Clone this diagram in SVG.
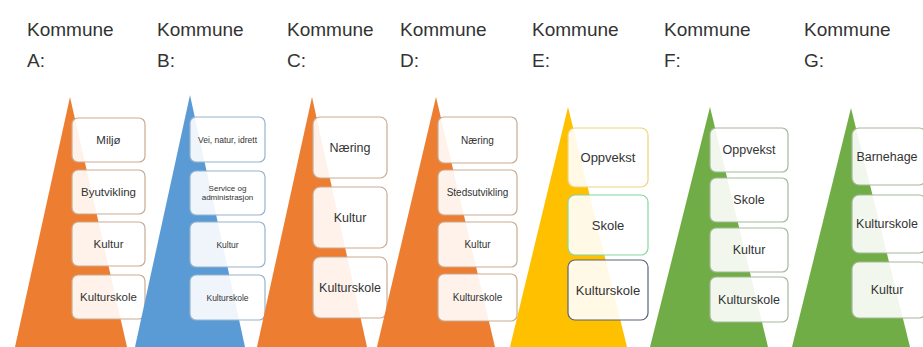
<svg xmlns="http://www.w3.org/2000/svg" width="923" height="347" viewBox="0 0 923 347">
<style>
.hd{font-family:"Liberation Sans",Arial,sans-serif;font-size:19px;fill:#333}
.bx{fill:#fff;fill-opacity:0.9;stroke-width:1.2}
.t{font-family:"Liberation Sans",Arial,sans-serif;fill:#333;text-anchor:middle;dominant-baseline:central}
.or{fill:#ED7D31}.bl{fill:#5B9BD5}.ye{fill:#FFC000}.gr{fill:#70AD47}
.so{stroke:#c9ab92}.sb{stroke:#97b3cc}.sg{stroke:#a6b79c}
</style>
<rect width="923" height="347" fill="#fff"/>
<g id="headers">
<text class="hd" x="27" y="36">Kommune</text><text class="hd" x="27" y="67">A:</text>
<text class="hd" x="157" y="36">Kommune</text><text class="hd" x="157" y="67">B:</text>
<text class="hd" x="287" y="36">Kommune</text><text class="hd" x="287" y="67">C:</text>
<text class="hd" x="400" y="36">Kommune</text><text class="hd" x="400" y="67">D:</text>
<text class="hd" x="532" y="36">Kommune</text><text class="hd" x="532" y="67">E:</text>
<text class="hd" x="664" y="36">Kommune</text><text class="hd" x="664" y="67">F:</text>
<text class="hd" x="804" y="36">Kommune</text><text class="hd" x="804" y="67">G:</text>
</g>
<g id="kommuneA">
<polygon class="or" points="70,97 15,347 127,347"/>
<g font-size="11.5">
<rect class="bx so" x="72" y="118" width="73" height="44" rx="6"/><text class="t" x="108.5" y="140">Miljø</text>
<rect class="bx so" x="72" y="170" width="73" height="44" rx="6"/><text class="t" x="108.5" y="192">Byutvikling</text>
<rect class="bx so" x="72" y="222" width="73" height="44" rx="6"/><text class="t" x="108.5" y="244">Kultur</text>
<rect class="bx so" x="72" y="275" width="73" height="44" rx="6"/><text class="t" x="108.5" y="297">Kulturskole</text>
</g>
</g>
<g id="kommuneB">
<polygon class="bl" points="190,95 135,347 245,347"/>
<g font-size="8.5">
<rect class="bx sb" x="190" y="117" width="75" height="45" rx="6"/><text class="t" x="227.5" y="139.5">Vei, natur, idrett</text>
<rect class="bx sb" x="190" y="171" width="75" height="44" rx="6"/><text class="t" x="227.5" y="188" font-size="8">Service og</text><text class="t" x="227.5" y="197" font-size="8">administrasjon</text>
<rect class="bx sb" x="190" y="222" width="75" height="45" rx="6"/><text class="t" x="227.5" y="244.5">Kultur</text>
<rect class="bx sb" x="190" y="275" width="75" height="45" rx="6"/><text class="t" x="227.5" y="297.5">Kulturskole</text>
</g>
</g>
<g id="kommuneC">
<polygon class="or" points="312,97 257,347 367,347"/>
<g font-size="12.5">
<rect class="bx so" x="313" y="117" width="74" height="61" rx="7"/><text class="t" x="350" y="147.5">Næring</text>
<rect class="bx so" x="313" y="187" width="74" height="61" rx="7"/><text class="t" x="350" y="217.5">Kultur</text>
<rect class="bx so" x="313" y="257" width="74" height="61" rx="7"/><text class="t" x="350" y="287.5">Kulturskole</text>
</g>
</g>
<g id="kommuneD">
<polygon class="or" points="436,97 377,347 495,347"/>
<g font-size="10">
<rect class="bx so" x="438" y="117" width="79" height="46" rx="6"/><text class="t" x="477.5" y="140">Næring</text>
<rect class="bx so" x="438" y="170" width="79" height="45" rx="6"/><text class="t" x="477.5" y="192.5">Stedsutvikling</text>
<rect class="bx so" x="438" y="222" width="79" height="45" rx="6"/><text class="t" x="477.5" y="244.5">Kultur</text>
<rect class="bx so" x="438" y="274" width="79" height="47" rx="6"/><text class="t" x="477.5" y="297.5">Kulturskole</text>
</g>
</g>
<g id="kommuneE">
<polygon class="ye" points="568,107 510,347 627,347"/>
<g font-size="13">
<rect class="bx" stroke="#efd37c" x="568" y="128" width="80" height="59" rx="7"/><text class="t" x="608" y="157.5">Oppvekst</text>
<rect class="bx" stroke="#86d6a0" x="568" y="195" width="80" height="60" rx="7"/><text class="t" x="608" y="225">Skole</text>
<rect class="bx" stroke="#56657a" x="568" y="260" width="80" height="60" rx="7"/><text class="t" x="608" y="290">Kulturskole</text>
</g>
</g>
<g id="kommuneF">
<polygon class="gr" points="710,107 650,347 768,347"/>
<g font-size="12.5">
<rect class="bx sg" x="710" y="128" width="78" height="44" rx="6"/><text class="t" x="749" y="150">Oppvekst</text>
<rect class="bx sg" x="710" y="178" width="78" height="44" rx="6"/><text class="t" x="749" y="200">Skole</text>
<rect class="bx sg" x="710" y="228" width="78" height="44" rx="6"/><text class="t" x="749" y="250">Kultur</text>
<rect class="bx sg" x="710" y="277" width="78" height="45" rx="6"/><text class="t" x="749" y="299.5">Kulturskole</text>
</g>
</g>
<g id="kommuneG">
<polygon class="gr" points="851,108 792,347 910,347"/>
<g font-size="12.5">
<rect class="bx sg" x="852" y="128" width="74" height="57" rx="7"/><text class="t" x="887" y="156.5">Barnehage</text>
<rect class="bx sg" x="852" y="195" width="74" height="58" rx="7"/><text class="t" x="887" y="224">Kulturskole</text>
<rect class="bx sg" x="852" y="262" width="74" height="56" rx="7"/><text class="t" x="887" y="290">Kultur</text>
</g>
</g>
<g id="connectors"/>
</svg>
